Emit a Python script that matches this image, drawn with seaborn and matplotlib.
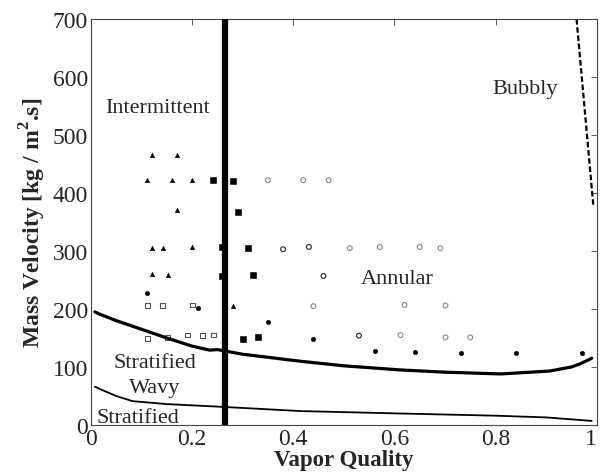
import matplotlib
matplotlib.use("Agg")
import matplotlib.pyplot as plt
import seaborn as sns
import pandas as pd

# flow pattern boundaries
sw_x = [0.008, 0.018, 0.05, 0.117, 0.15, 0.2, 0.235, 0.25, 0.3, 0.413, 0.5, 0.61, 0.7, 0.81, 0.907, 0.95, 0.966, 0.99]
sw_y = [195, 191, 180, 160, 150, 136, 129, 130, 122, 110, 102, 95, 91, 88, 93, 100, 105, 115]
strat_x = [0.008, 0.018, 0.05, 0.083, 0.15, 0.265, 0.413, 0.6, 0.8, 0.9, 0.99]
strat_y = [66, 62, 50, 41, 36, 31, 24, 20, 16, 13, 7]
bubbly_x = [0.96, 0.993]
bubbly_y = [700, 380]
transition_x = 0.266

# experimental points
tri_x = [0.121, 0.171, 0.112, 0.161, 0.201, 0.171, 0.121, 0.142, 0.201, 0.121, 0.152, 0.281]
tri_y = [466, 466, 422, 422, 422, 370, 306, 306, 307, 260, 259, 206]
fsq_x = [0.242, 0.281, 0.291, 0.259, 0.311, 0.259, 0.321, 0.301, 0.331]
fsq_y = [422, 420, 367, 307, 305, 257, 259, 149, 151]
fci_x = [0.112, 0.211, 0.350, 0.440, 0.561, 0.640, 0.731, 0.840, 0.970]
fci_y = [228, 201, 178, 148, 128, 125, 124, 124, 124]
osq_x = [0.112, 0.142, 0.201, 0.112, 0.152, 0.191, 0.221, 0.242]
osq_y = [206, 206, 207, 149, 151, 155, 154, 155]
oci_black_x = [0.380, 0.431, 0.460, 0.530]
oci_black_y = [303, 307, 257, 154]
oci_grey_x = [0.350, 0.420, 0.470, 0.512, 0.571, 0.650, 0.691, 0.440, 0.620, 0.701, 0.612, 0.701, 0.750]
oci_grey_y = [422, 422, 422, 305, 307, 307, 305, 205, 207, 206, 155, 151, 151]

x_ticks = [0, 0.2, 0.4, 0.6, 0.8, 1]
x_ticklabels = ["0", "0.2", "0.4", "0.6", "0.8", "1"]

sns.set_style("white")
plt.rcParams["font.family"] = ["Liberation Serif", "DejaVu Serif"]
plt.rcParams["mathtext.fontset"] = "custom"
plt.rcParams["mathtext.rm"] = "Liberation Serif"
plt.rcParams["mathtext.bf"] = "Liberation Serif:bold"

fig = plt.figure(figsize=(6.01, 4.77), dpi=100)
ax = fig.add_axes([0.151, 0.107, 0.842, 0.851])

sns.lineplot(x=sw_x, y=sw_y, ax=ax, color="black", linewidth=2.3, sort=False)
sns.lineplot(x=strat_x, y=strat_y, ax=ax, color="black", linewidth=1.3, sort=False)
sns.lineplot(x=bubbly_x, y=bubbly_y, ax=ax, color="black", linewidth=1.6,
             linestyle=(0, (2.5, 1.2)), sort=False)
ax.axvline(transition_x, color="black", linewidth=4.5, zorder=5)

sns.scatterplot(x=tri_x, y=tri_y, ax=ax, marker="^", s=10, color="black", edgecolor="black", linewidth=0.4)
sns.scatterplot(x=fsq_x, y=fsq_y, ax=ax, marker="s", s=14, color="black", edgecolor="black", linewidth=0.4)
sns.scatterplot(x=fci_x, y=fci_y, ax=ax, marker="o", s=10, color="black", edgecolor="black", linewidth=0.4)
sns.scatterplot(x=osq_x, y=osq_y, ax=ax, marker="s", s=12, facecolor="none", edgecolor="#555555", linewidth=0.8)
sns.scatterplot(x=oci_black_x, y=oci_black_y, ax=ax, marker="o", s=12, facecolor="none", edgecolor="#222222", linewidth=0.8)
sns.scatterplot(x=oci_grey_x, y=oci_grey_y, ax=ax, marker="o", s=12, facecolor="none", edgecolor="#888888", linewidth=0.8)

# regime labels
ax.text(0.028, 540, "Intermittent", fontsize=16)
ax.text(0.794, 572, "Bubbly", fontsize=16)
ax.text(0.605, 252, "Annular", fontsize=16, ha="center", va="center")
ax.text(0.126, 108, "Stratified", fontsize=16, ha="center", va="center")
ax.text(0.126, 64, "Wavy", fontsize=16, ha="center", va="center")
ax.text(0.012, 5, "Stratified", fontsize=16)

ax.set_xlim(0, 1)
ax.set_ylim(0, 700)
ax.set_xticks(x_ticks)
ax.set_xticklabels(x_ticklabels)
ax.set_yticks(range(0, 701, 100))
ax.tick_params(direction="in", top=True, right=True, labelsize=17, length=4, width=0.6, color="#444444", pad=2)
ax.get_xticklabels()[-1].set_horizontalalignment("right")
for sp in ax.spines.values():
    sp.set_color("#444444")
    sp.set_linewidth(0.8)

ax.set_xlabel("Vapor Quality", fontsize=16.5, fontweight="bold", labelpad=0)
ax.set_ylabel(r"Mass Velocity [kg / m$^\mathbf{2}$.s]", fontsize=17, fontweight="bold", labelpad=3)

fig.savefig("out.png", dpi=100)
